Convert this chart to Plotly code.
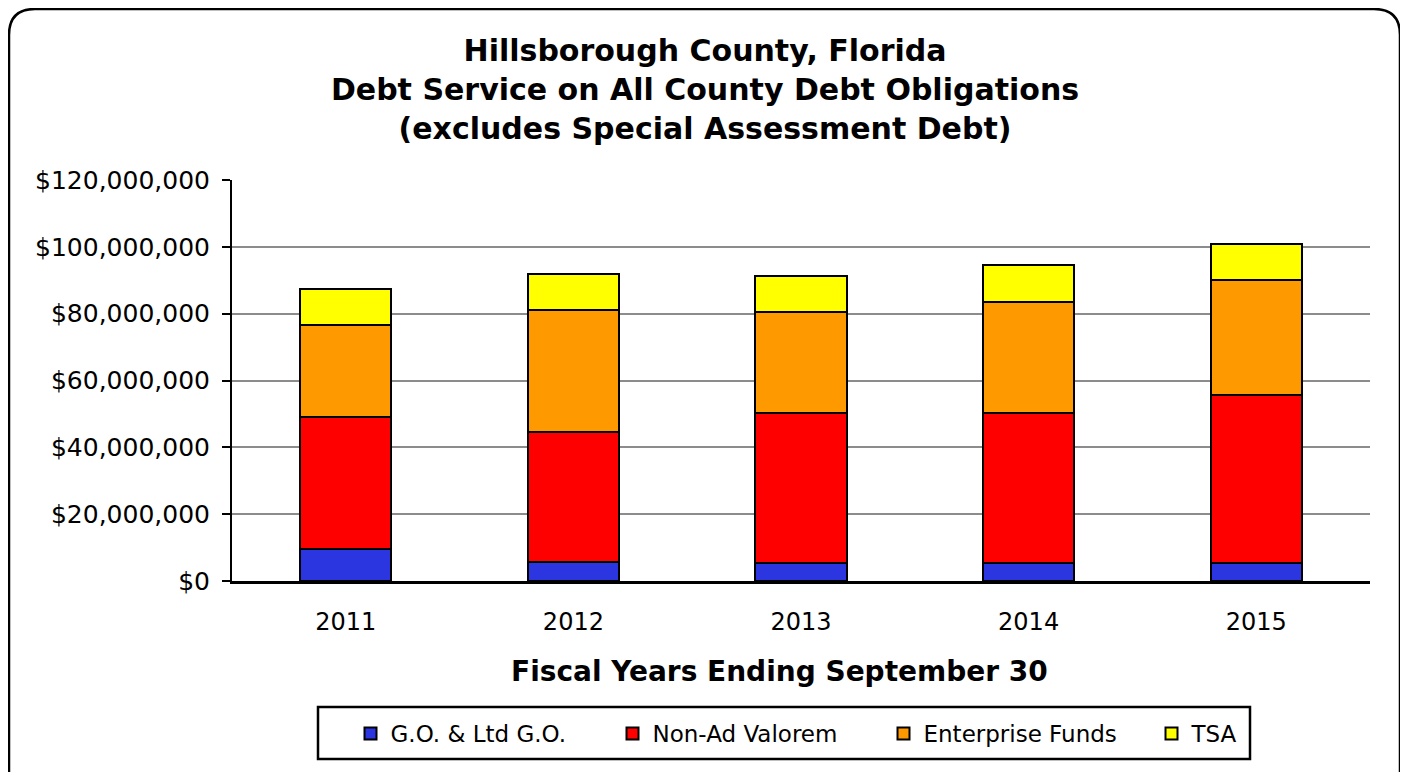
import plotly.graph_objects as go

years = ["2011", "2012", "2013", "2014", "2015"]
go_ltd = [9.5e6, 5.6e6, 5.5e6, 5.5e6, 5.5e6]
non_ad = [39.7e6, 38.9e6, 44.9e6, 44.9e6, 50.1e6]
enterprise = [27.4e6, 36.5e6, 30.0e6, 33.2e6, 34.4e6]
tsa = [10.8e6, 10.9e6, 11.0e6, 11.0e6, 10.9e6]

series = [
    ("G.O. & Ltd G.O.", go_ltd, "#2b35e0", 217),
    ("Non-Ad Valorem", non_ad, "#ff0000", 226),
    ("Enterprise Funds", enterprise, "#ff9900", 223),
    ("TSA", tsa, "#ffff00", 60),
]

FONT = "DejaVu Sans"
OFF = 8  # page body margin
W, H = 1400, 764
L, R, T, B = 224, 38, 172, 191
PW = W - L - R
PH = H - T - B

fig = go.Figure()
for name, vals, col, lw in series:
    fig.add_trace(go.Bar(
        x=years, y=vals, name=name,
        marker=dict(color=col, line=dict(color="black", width=2)),
        width=0.4, legendwidth=lw,
    ))

def px(xs):  # screenshot x -> paper
    return (xs - OFF - L) / PW

def py(ys):  # screenshot y -> paper
    return (H - B - (ys - OFF)) / PH

# rounded outer border
x0, x1, y0, y1, r = 9, 1400, 9, 800, 26
path = (
    f"M {px(x0)},{py(y0 + r)} "
    f"Q {px(x0)},{py(y0)} {px(x0 + r)},{py(y0)} "
    f"L {px(x1 - r)},{py(y0)} "
    f"Q {px(x1)},{py(y0)} {px(x1)},{py(y0 + r)} "
    f"L {px(x1)},{py(y1 - r)} "
    f"Q {px(x1)},{py(y1)} {px(x1 - r)},{py(y1)} "
    f"L {px(x0 + r)},{py(y1)} "
    f"Q {px(x0)},{py(y1)} {px(x0)},{py(y1 - r)} Z"
)

legend_total = 262 + 271 + 268 + 40 + 60 + 10
legend_center = 348 + legend_total / 2

fig.update_layout(
    width=W, height=H,
    margin=dict(l=L, r=R, t=T, b=B),
    paper_bgcolor="white", plot_bgcolor="white",
    barmode="stack",
    font=dict(family=FONT, color="black"),
    title=dict(
        text="Hillsborough County, Florida<br>Debt Service on All County Debt Obligations<br>(excludes Special Assessment Debt)",
        font=dict(family=FONT, size=30, color="black", weight="bold"),
        x=(705 - OFF) / W, xref="container", xanchor="center",
        y=1 - 53 / H, yref="container", yanchor="top",
    ),
    xaxis=dict(
        showline=True, linecolor="black", linewidth=3,
        ticks="", tickfont=dict(size=24, family=FONT),
        ticklabelstandoff=17,
    ),
    yaxis=dict(
        range=[0, 120e6], tickvals=[0, 20e6, 40e6, 60e6, 80e6, 100e6, 120e6],
        tickformat="$,.0f",
        showline=True, linecolor="black", linewidth=2,
        ticks="outside", ticklen=8, tickcolor="black", tickwidth=2,
        showgrid=True, gridcolor="#8c8c8c", gridwidth=2,
        tickfont=dict(size=25, family=FONT),
        ticklabelstandoff=7,
        zeroline=False,
    ),
    legend=dict(
        orientation="h", x=px(legend_center), xanchor="center", y=py(712), yanchor="top",
        borderwidth=0, bgcolor="rgba(0,0,0,0)",
        font=dict(size=23, family=FONT),
        traceorder="normal",
        entrywidthmode="pixels",
    ),
    annotations=[dict(
        text="<b>Fiscal Years Ending September 30</b>",
        xref="paper", yref="paper", x=px(779), y=py(671),
        xanchor="center", yanchor="middle", showarrow=False,
        font=dict(size=28, family=FONT, color="black"),
    )],
    shapes=[
        dict(type="path", xref="paper", yref="paper", path=path,
             line=dict(color="black", width=2.5), layer="below"),
        dict(type="rect", xref="paper", yref="paper",
             x0=px(318), x1=px(1250), y0=py(707), y1=py(759),
             line=dict(color="black", width=2.5), fillcolor="white", layer="below"),
    ],
)

fig.write_html("out.html")
